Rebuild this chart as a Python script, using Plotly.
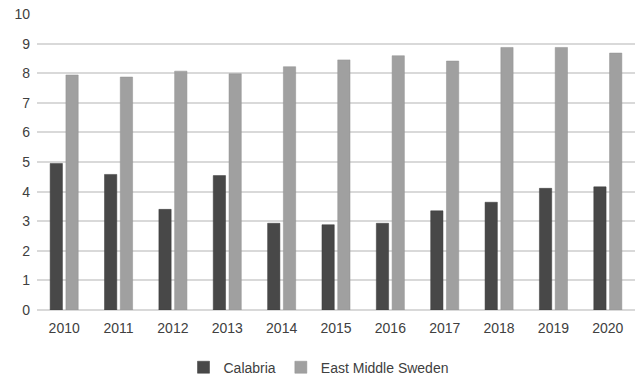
import plotly.graph_objects as go

years = [str(y) for y in range(2010, 2021)]
calabria = [4.95, 4.58, 3.40, 4.54, 2.93, 2.88, 2.93, 3.35, 3.64, 4.11, 4.16]
east_middle_sweden = [7.94, 7.87, 8.07, 7.98, 8.22, 8.45, 8.59, 8.41, 8.87, 8.87, 8.68]

font_family = "Liberation Sans, Arial, sans-serif"

fig = go.Figure()
fig.add_trace(go.Bar(x=years, y=calabria, name="Calabria",
                     marker=dict(color="#484848", line=dict(color="#3a3a3a", width=0.5))))
fig.add_trace(go.Bar(x=years, y=east_middle_sweden, name="East Middle Sweden",
                     marker=dict(color="#a0a0a0", line=dict(color="#909090", width=0.5))))

fig.update_layout(
    width=637, height=379,
    margin=dict(l=37, r=2, t=14, b=69, autoexpand=False),
    paper_bgcolor="white", plot_bgcolor="white",
    barmode="group", bargap=0.42, bargroupgap=0.22,
    font=dict(family=font_family, size=13, color="#404040"),
    showlegend=True,
    legend=dict(orientation="h", x=0.5, xanchor="center", xref="container",
                y=0.03, yanchor="middle", yref="container",
                font=dict(size=14, color="#404040"), traceorder="normal",
                itemwidth=30),
    xaxis=dict(showgrid=False, showline=False, ticks="", tickfont=dict(size=14),
               ticklabelstandoff=8),
    yaxis=dict(range=[0, 10], dtick=1, showgrid=True, gridcolor="#d9d9d9", gridwidth=1.5,
               zeroline=True, zerolinecolor="#d9d9d9", zerolinewidth=1.5,
               showline=False, ticks="", tickfont=dict(size=14), ticklabelstandoff=6),
)

fig.write_html("out.html")
